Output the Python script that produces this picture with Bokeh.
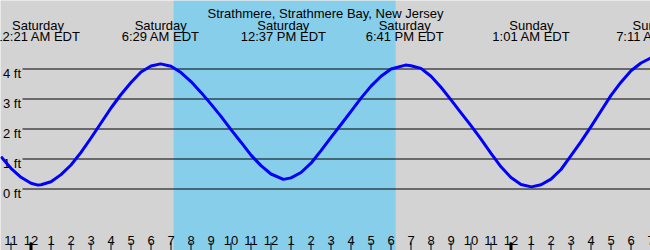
from bokeh.plotting import figure
from bokeh.models import Range1d, BoxAnnotation, ColumnDataSource
from bokeh.core.properties import value
from bokeh.embed import file_html
from bokeh.resources import INLINE

# ---------------- data ----------------
title_text = "Strathmere, Strathmere Bay, New Jersey"

# hours after midnight (Saturday) and predicted tide height in feet
curve_hours = [-1.5, -1.0, -0.5, 0.0, 0.35, 0.5, 1.0, 1.5, 2.0, 2.5, 3.0, 3.5, 4.0, 4.5,
               5.0, 5.5, 6.0, 6.48, 7.0, 7.5, 8.0, 8.5, 9.0, 9.5, 10.0, 10.5, 11.0, 11.5,
               12.0, 12.62, 13.0, 13.5, 14.0, 14.5, 15.0, 15.5, 16.0, 16.5, 17.0, 17.5,
               18.0, 18.72, 19.0, 19.5, 20.0, 20.5, 21.0, 21.5, 22.0, 22.5, 23.0, 23.5,
               24.0, 24.5, 25.02, 25.5, 26.0, 26.5, 27.0, 27.5, 28.0, 28.5, 29.0, 29.5,
               30.0, 30.5, 31.0]
curve_ft = [1.08, 0.69, 0.39, 0.19, 0.13, 0.14, 0.24, 0.48, 0.80, 1.22, 1.70, 2.20, 2.70, 3.15,
            3.55, 3.90, 4.10, 4.17, 4.09, 3.88, 3.58, 3.22, 2.83, 2.42, 1.98, 1.56, 1.13, 0.78,
            0.50, 0.32, 0.37, 0.55, 0.86, 1.28, 1.72, 2.15, 2.59, 3.03, 3.43, 3.76,
            4.00, 4.13, 4.11, 4.02, 3.76, 3.39, 2.97, 2.54, 2.11, 1.66, 1.19, 0.74,
            0.38, 0.15, 0.07, 0.14, 0.33, 0.65, 1.11, 1.58, 2.08, 2.60, 3.12, 3.56,
            3.94, 4.20, 4.37]

extreme_hours = [0.35, 6.483, 12.617, 18.683, 25.017, 31.183]
extreme_days = ["Saturday", "Saturday", "Saturday", "Saturday", "Sunday", "Sunday"]
extreme_times = ["12:21 AM EDT", "6:29 AM EDT", "12:37 PM EDT", "6:41 PM EDT",
                 "1:01 AM EDT", "7:11 AM EDT"]

sunrise_hour = 7.13
sunset_hour = 18.23

level_ft = [0, 1, 2, 3, 4]
level_labels = ["0 ft", "1 ft", "2 ft", "3 ft", "4 ft"]

tick_hours = [-1, 0, 1, 2, 3, 4, 5, 6, 7, 8, 9, 10, 11, 12, 13, 14, 15, 16, 17, 18, 19,
              20, 21, 22, 23, 24, 25, 26, 27, 28, 29, 30, 31]
tick_labels = ["11", "12", "1", "2", "3", "4", "5", "6", "7", "8", "9", "10", "11",
               "12", "1", "2", "3", "4", "5", "6", "7", "8", "9", "10", "11",
               "12", "1", "2", "3", "4", "5", "6", "7"]
midnight_hours = [0, 24]

# ---------------- layout helpers (pixels -> data) ----------------
W, H = 650, 250
PX_PER_HOUR = 20.0
MIDNIGHT_PX = 30.5
PX_PER_FT = 30.0
ZERO_FT_PX = 188.5


def hx(px):
    return (px - MIDNIGHT_PX) / PX_PER_HOUR


def fy(py):
    return (ZERO_FT_PX - py) / PX_PER_FT


FONT = value("Liberation Sans")
FS = "13px"

p = figure(width=W, height=H, output_backend="svg", toolbar_location=None,
           x_range=Range1d(hx(0), hx(W)), y_range=Range1d(fy(H), fy(0)),
           x_axis_type=None, y_axis_type=None, min_border=0,
           background_fill_color="#d3d3d3", border_fill_color="#d3d3d3",
           outline_line_color=None)
p.grid.visible = False

# daylight
p.add_layout(BoxAnnotation(left=sunrise_hour, right=sunset_hour, fill_color="#87ceeb",
                           fill_alpha=1.0, line_color=None, level="underlay"))

# level lines
p.segment(x0=[hx(22)] * len(level_ft), x1=[hx(W + 5)] * len(level_ft),
          y0=level_ft, y1=level_ft, line_color="black", line_width=1)
p.text(x=[hx(2.5)] * len(level_ft), y=[v - 4.5 / PX_PER_FT for v in level_ft],
       text=level_labels, text_font=FONT, text_font_size=FS, text_color="black",
       text_align="left", text_baseline="alphabetic")

# tide curve
src = ColumnDataSource(dict(h=curve_hours, ft=curve_ft))
p.line("h", "ft", source=src, line_color="#0000ff", line_width=3)

# hour ticks and labels
p.segment(x0=tick_hours, x1=tick_hours, y0=[fy(242)] * len(tick_hours),
          y1=[fy(H + 2)] * len(tick_hours), line_color="black", line_width=1)
p.segment(x0=midnight_hours, x1=midnight_hours, y0=[fy(242)] * 2, y1=[fy(H + 2)] * 2,
          line_color="black", line_width=3)
p.text(x=tick_hours, y=[fy(240)] * len(tick_hours), text=tick_labels, text_font=FONT,
       text_font_size=FS, text_color="black", text_align="center",
       text_baseline="alphabetic")

# extreme labels
p.text(x=extreme_hours, y=[fy(24.5)] * len(extreme_hours), text=extreme_days,
       text_font=FONT, text_font_size=FS, text_color="black", text_align="center",
       text_baseline="alphabetic")
p.text(x=extreme_hours, y=[fy(36)] * len(extreme_hours), text=extreme_times,
       text_font=FONT, text_font_size=FS, text_color="black", text_align="center",
       text_baseline="alphabetic")

# title
p.text(x=[hx(W / 2)], y=[fy(12.5)], text=[title_text], text_font=FONT, text_font_size=FS,
       text_color="black", text_align="center", text_baseline="alphabetic")

open("out.html", "w").write(file_html(p, INLINE))
